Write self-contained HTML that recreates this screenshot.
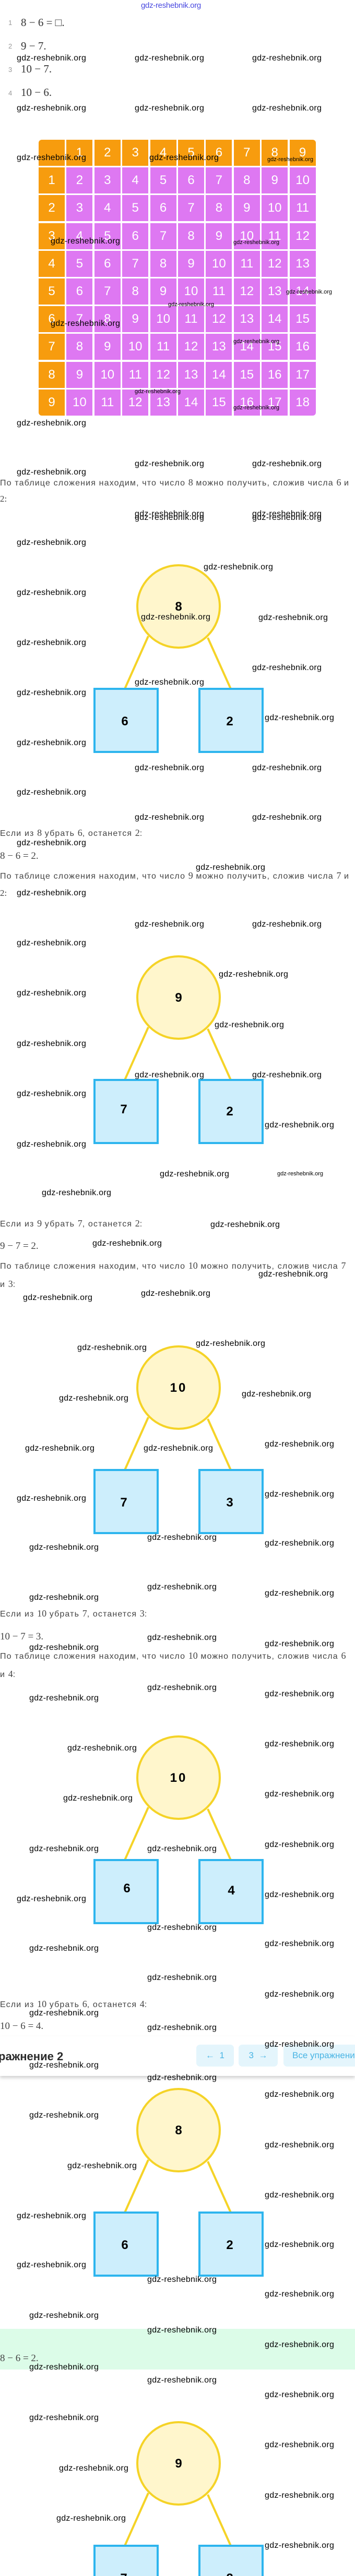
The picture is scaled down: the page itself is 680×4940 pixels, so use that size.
<!DOCTYPE html>
<html><head><meta charset="utf-8">
<style>
*{margin:0;padding:0;box-sizing:border-box}
body{width:680px;height:4940px;position:relative;background:#fff;overflow:hidden;font-family:"Liberation Sans",sans-serif}
.a{position:absolute;white-space:nowrap}
.w{position:absolute;white-space:nowrap;font-family:"Liberation Sans",sans-serif;font-size:16px;line-height:20px;color:#000;letter-spacing:0.3px}
.w.s{font-size:11px;letter-spacing:0}
.t{position:absolute;left:0;white-space:nowrap;font-size:16px;line-height:22px;color:#444;letter-spacing:1.15px}
.m{font-family:"Liberation Serif",serif;font-size:18px;color:#444;letter-spacing:0}
.eq{position:absolute;left:0;font-family:"Liberation Serif",serif;font-size:19px;line-height:24px;color:#444;white-space:nowrap}
.n{position:absolute;left:16px;font-size:13px;color:#999;line-height:20px}
.mm{position:absolute;left:40px;font-family:"Liberation Serif",serif;font-size:21px;line-height:26px;color:#333;white-space:nowrap}
.btn{position:absolute;top:3921px;height:42px;border-radius:7px;background:#e4f5fc;color:#48b4e4;font-size:17px;line-height:42px;text-align:center;white-space:nowrap;font-family:"Liberation Sans","DejaVu Sans",sans-serif}
</style></head><body>

<div class="a" style="left:270px;top:2px;font-size:15px;color:#4a4ae0;letter-spacing:-0.3px">gdz-reshebnik.org</div>

<div class="n" style="top:34px">1</div><div class="mm" style="top:30px">8 − 6 = □.</div>
<div class="n" style="top:79px">2</div><div class="mm" style="top:75px">9 − 7.</div>
<div class="n" style="top:124px">3</div><div class="mm" style="top:119px">10 − 7.</div>
<div class="n" style="top:169px">4</div><div class="mm" style="top:164px">10 − 6.</div>

<div class="a" style="left:0;top:4466px;width:680px;height:78px;background:#dcfce8"></div>

<div id="table" class="a" style="left:74px;top:268px;width:535px;height:533px"></div>

<svg class="a" style="left:0;top:0" width="680" height="4940" viewBox="0 0 680 4940" font-family="Liberation Sans, sans-serif" font-weight="bold" font-size="24" text-anchor="middle">
<defs>
<g id="d">
<line x1="284" y1="57" x2="239" y2="158" stroke="#f5d327" stroke-width="4"/>
<line x1="398" y1="60" x2="442" y2="158" stroke="#f5d327" stroke-width="4"/>
<circle cx="342" cy="0" r="79" fill="#fff6cc" stroke="#f5d327" stroke-width="4"/>
<rect x="181" y="158" width="121" height="121" fill="#cdeefc" stroke="#2db5ee" stroke-width="4"/>
<rect x="382" y="158" width="121" height="121" fill="#cdeefc" stroke="#2db5ee" stroke-width="4"/>
</g>
</defs>
<g transform="translate(0,1163)"><use href="#d"/><text x="342" y="8">8</text><text x="239" y="228">6</text><text x="440" y="228">2</text></g>
<g transform="translate(0,1913)"><use href="#d"/><text x="342" y="8">9</text><text x="237" y="222">7</text><text x="440" y="226">2</text></g>
<g transform="translate(0,2661)"><use href="#d"/><text x="342" y="8" letter-spacing="3">10</text><text x="237" y="228">7</text><text x="440" y="228">3</text></g>
<g transform="translate(0,3409)"><use href="#d"/><text x="342" y="8" letter-spacing="3">10</text><text x="243" y="220">6</text><text x="443" y="224">4</text></g>
<g transform="translate(0,4085)"><use href="#d"/><text x="342" y="8">8</text><text x="239" y="228">6</text><text x="440" y="228">2</text></g>
<g transform="translate(0,4724)"><use href="#d"/><text x="342" y="8">9</text><text x="237" y="228">7</text><text x="440" y="228">2</text></g>
</svg>

<div class="t" style="top:914px">По таблице сложения находим, что число <span class="m">8</span> можно получить, сложив числа <span class="m">6</span> и</div>
<div class="eq" style="top:945px;font-size:17px">2:</div>
<div class="t" style="top:1586px">Если из <span class="m">8</span> убрать <span class="m">6</span>, останется <span class="m">2</span>:</div>
<div class="eq" style="top:1630px">8 − 6 = 2.</div>
<div class="t" style="top:1668px">По таблице сложения находим, что число <span class="m">9</span> можно получить, сложив числа <span class="m">7</span> и</div>
<div class="eq" style="top:1701px;font-size:17px">2:</div>
<div class="t" style="top:2335px">Если из <span class="m">9</span> убрать <span class="m">7</span>, останется <span class="m">2</span>:</div>
<div class="eq" style="top:2378px">9 − 7 = 2.</div>
<div class="t" style="top:2416px">По таблице сложения находим, что число <span class="m">10</span> можно получить, сложив числа <span class="m">7</span></div>
<div class="t" style="top:2451px">и <span class="m">3</span>:</div>
<div class="t" style="top:3083px">Если из <span class="m">10</span> убрать <span class="m">7</span>, останется <span class="m">3</span>:</div>
<div class="eq" style="top:3127px">10 − 7 = 3.</div>
<div class="t" style="top:3164px">По таблице сложения находим, что число <span class="m">10</span> можно получить, сложив числа <span class="m">6</span></div>
<div class="t" style="top:3199px">и <span class="m">4</span>:</div>
<div class="t" style="top:3832px">Если из <span class="m">10</span> убрать <span class="m">6</span>, останется <span class="m">4</span>:</div>
<div class="eq" style="top:3874px">10 − 6 = 4.</div>
<div class="eq" style="top:4511px">8 − 6 = 2.</div>

<div class="a" style="left:0;top:3905px;width:680px;height:76px;background:#fff;box-shadow:0 4px 6px rgba(0,0,0,0.18)"></div>
<div class="a" style="left:-3px;top:3930px;font-size:22px;font-weight:bold;color:#2a2a2a;line-height:28px">ражнение 2</div>
<div class="btn" style="left:376px;width:72px">←&nbsp; 1</div>
<div class="btn" style="left:457px;width:75px">3 &nbsp;→</div>
<div class="btn" style="left:543px;width:137px;text-align:left;padding-left:17px;overflow:hidden;border-radius:7px 0 0 7px">Все упражнения</div>

<div id="wm"></div>

<script>
(function(){
var t=document.getElementById('table'),h='';
for(var r=0;r<10;r++)for(var c=0;c<10;c++){
 var x=c*53.4,y=r*53.2,org=(r==0||c==0);
 var v=(r==0&&c==0)?'':(r==0?c:(c==0?r:r+c));
 var rad='';
 if(r==0&&c==0)rad='border-top-left-radius:6px;';
 if(r==0&&c==9)rad='border-top-right-radius:6px;';
 if(r==9&&c==0)rad='border-bottom-left-radius:6px;';
 if(r==9&&c==9)rad='border-bottom-right-radius:6px;';
 h+='<div style="position:absolute;left:'+x+'px;top:'+y+'px;width:50px;height:50px;'+rad+'background:'+(org?'#f79c0e':'#de78f2')+';color:#fff;font-size:24px;line-height:50px;text-align:center;font-family:Liberation Sans,sans-serif">'+v+'</div>';
}
t.innerHTML=h;
})();
var W=[[32,112],[258,112],[483,112],[32,208],[258,208],[483,208],[32,303],[286,303],[512,306,1],
[97,463],[447,465,1],[548,560,1],[322,584,1],[97,621],[447,655,1],[258,751,1],[447,782,1],[32,812],[258,890],[483,890],[32,906],[258,986],[483,986],
[258,993],[483,993],[32,1041],[390,1088],[32,1137],[270,1184],[495,1185],[32,1233],[483,1281],[258,1309],[32,1329],[507,1377],[32,1425],[258,1473],[483,1473],
[32,1520],[258,1568],[483,1568],[32,1617],[375,1664],[32,1713],[258,1773],[483,1773],[32,1809],[419,1869],[32,1905],[411,1966],[32,2002],[258,2062],[483,2062],[32,2098],[507,2158],[32,2195],
[306,2252],[531,2251,1],[80,2288],[403,2349],[177,2385],[495,2444],[44,2489],[270,2481],[148,2585],[375,2577],[113,2682],[463,2674],[48,2778],[275,2778],[507,2770],[32,2874],[507,2866],
[282,2949],[56,2968],[507,2960],[282,3044],[56,3064],[507,3056],[282,3141],[56,3160],[507,3153],[282,3237],[56,3257],[507,3249],[129,3353],[507,3345],[121,3449],[507,3441],[56,3546],[282,3546],[507,3538],[32,3642],[507,3634],
[282,3697],[56,3737],[507,3728],[282,3793],[507,3825],[56,3861],[282,3889],[507,3921],[56,3961],[282,3985],[507,4017],[56,4057],[507,4114],[129,4154],[507,4210],[32,4250],
[507,4305],[32,4344],[282,4372],[507,4400],[56,4441],[282,4469],[507,4497],[56,4540],[282,4565],[507,4593],[56,4637],[507,4689],[113,4734],[507,4786],[108,4830],[507,4882]];
var s='';
W.forEach(function(p){s+='<div class="w'+(p[2]?' s':'')+'" style="left:'+p[0]+'px;top:'+(p[1]-10)+'px;z-index:5">gdz-reshebnik.org</div>';});
document.getElementById('wm').innerHTML=s;
</script>
</body></html>
